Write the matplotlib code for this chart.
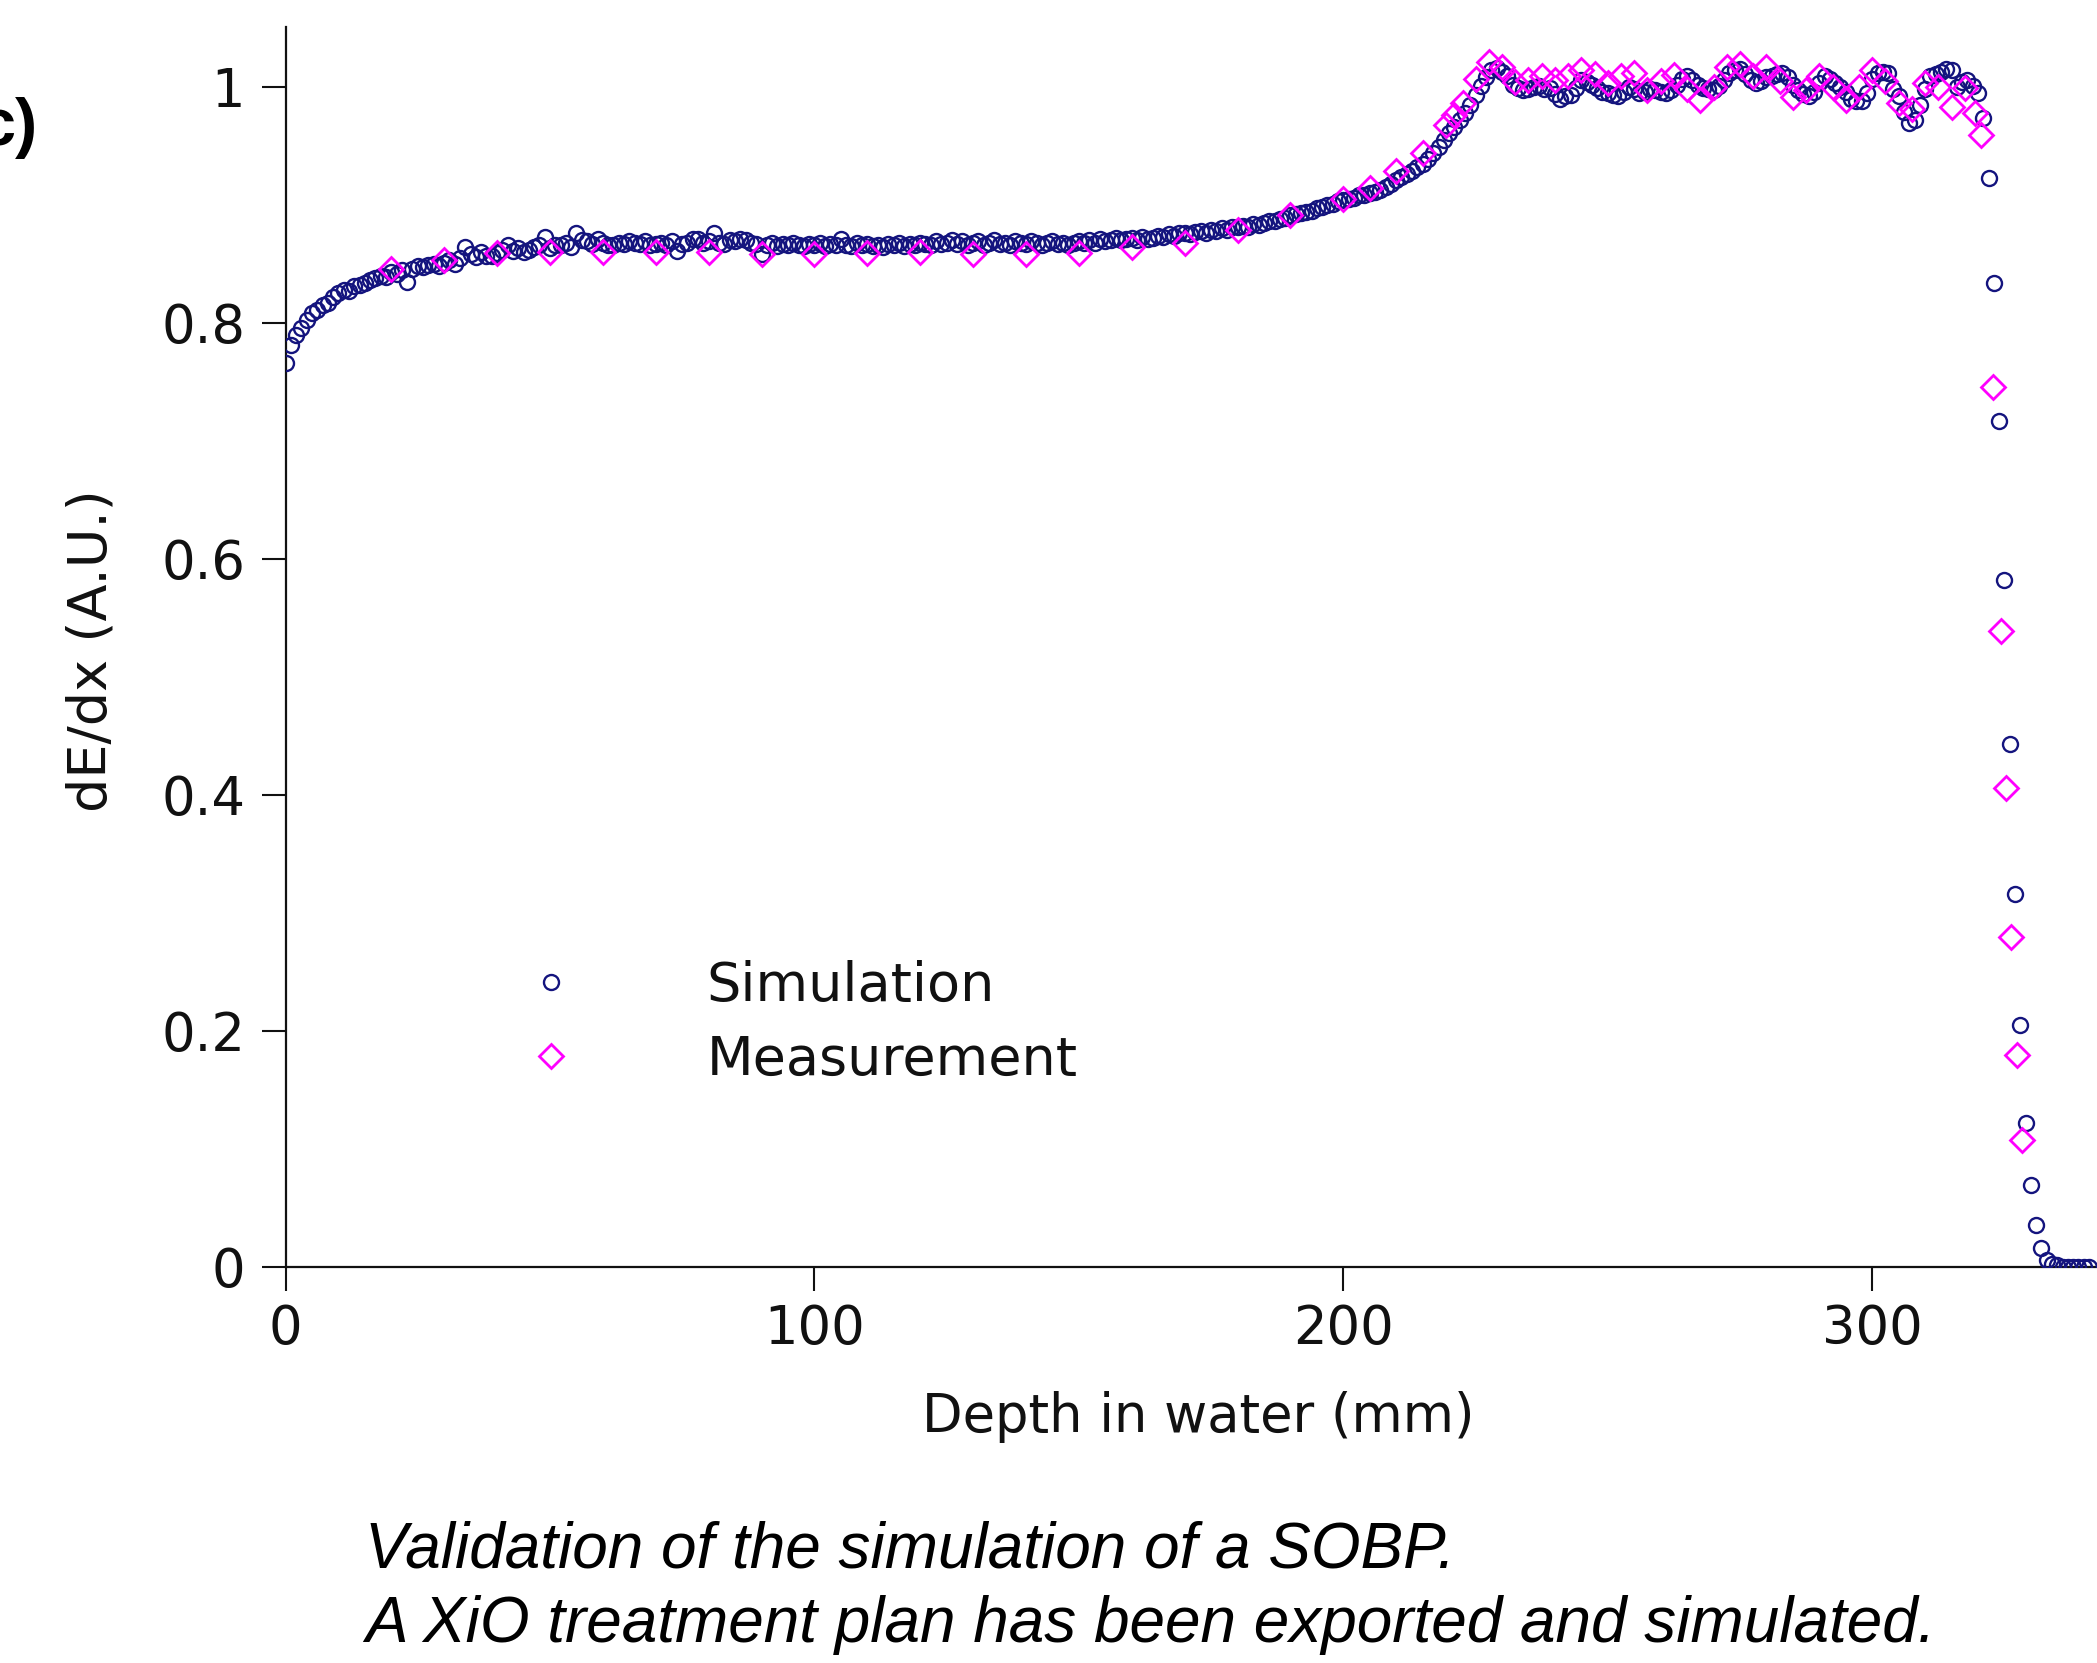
import matplotlib
matplotlib.use("Agg")
import matplotlib.pyplot as plt
import numpy as np

# ---------------- data ----------------
sim_depth = list(range(0, 342))  # mm, 1 mm steps
sim_dedx = [
    0.766, 0.781, 0.790, 0.796, 0.802, 0.808, 0.811, 0.815, 0.817, 0.822,
    0.825, 0.828, 0.827, 0.831, 0.832, 0.834, 0.836, 0.838, 0.840, 0.839,
    0.843, 0.841, 0.845, 0.835, 0.846, 0.848, 0.847, 0.849, 0.850, 0.848,
    0.851, 0.853, 0.850, 0.855, 0.864, 0.858, 0.856, 0.860, 0.857, 0.857,
    0.859, 0.862, 0.866, 0.861, 0.863, 0.860, 0.862, 0.864, 0.866, 0.873,
    0.863, 0.866, 0.866, 0.868, 0.864, 0.876, 0.870, 0.869, 0.867, 0.871,
    0.868, 0.866, 0.866, 0.868, 0.867, 0.869, 0.868, 0.867, 0.869, 0.866,
    0.867, 0.868, 0.866, 0.869, 0.861, 0.867, 0.868, 0.871, 0.871, 0.868,
    0.869, 0.876, 0.868, 0.867, 0.870, 0.869, 0.871, 0.870, 0.868, 0.867,
    0.858, 0.866, 0.868, 0.865, 0.867, 0.866, 0.868, 0.866, 0.865, 0.867,
    0.866, 0.868, 0.865, 0.867, 0.866, 0.871, 0.866, 0.865, 0.868, 0.866,
    0.867, 0.865, 0.866, 0.864, 0.867, 0.866, 0.868, 0.865, 0.867, 0.866,
    0.868, 0.867, 0.866, 0.869, 0.867, 0.868, 0.870, 0.867, 0.869, 0.866,
    0.868, 0.869, 0.866, 0.868, 0.870, 0.867, 0.868, 0.866, 0.869, 0.868,
    0.867, 0.869, 0.868, 0.866, 0.868, 0.869, 0.867, 0.868, 0.866, 0.868,
    0.869, 0.868, 0.870, 0.868, 0.871, 0.869, 0.870, 0.872, 0.870, 0.871,
    0.872, 0.870, 0.873, 0.871, 0.872, 0.874, 0.873, 0.875, 0.874, 0.876,
    0.876, 0.875, 0.877, 0.878, 0.876, 0.879, 0.878, 0.880, 0.879, 0.881,
    0.881, 0.882, 0.881, 0.884, 0.883, 0.885, 0.886, 0.886, 0.888, 0.889,
    0.891, 0.892, 0.893, 0.894, 0.895, 0.897, 0.898, 0.900, 0.901, 0.903,
    0.904, 0.905, 0.906, 0.908, 0.908, 0.910, 0.911, 0.913, 0.915, 0.918,
    0.921, 0.924, 0.926, 0.929, 0.932, 0.935, 0.939, 0.944, 0.949, 0.955,
    0.961, 0.966, 0.972, 0.978, 0.985, 0.993, 1.001, 1.008, 1.014, 1.016,
    1.013, 1.009, 1.002, 0.999, 0.997, 0.998, 1.000, 1.001, 0.998, 0.999,
    0.994, 0.990, 0.992, 0.993, 0.999, 1.006, 1.004, 1.002, 0.999, 0.996,
    0.995, 0.993, 0.992, 0.996, 1.000, 0.998, 0.995, 0.996, 0.998, 0.997,
    0.996, 0.995, 0.997, 1.002, 1.007, 1.009, 1.006, 1.002, 0.999, 0.998,
    0.997, 1.001, 1.006, 1.012, 1.014, 1.015, 1.011, 1.006, 1.003, 1.005,
    1.008, 1.009, 1.011, 1.012, 1.008, 1.002, 0.997, 0.994, 0.992, 0.996,
    1.003, 1.009, 1.007, 1.003, 1.000, 0.996, 0.990, 0.988, 0.988, 0.995,
    1.007, 1.012, 1.013, 1.012, 0.998, 0.992, 0.979, 0.969, 0.972, 0.985,
    0.998, 1.009, 1.011, 1.013, 1.015, 1.014, 1.000, 1.004, 1.006, 1.001,
    0.995, 0.974, 0.923, 0.834, 0.717, 0.582, 0.443, 0.316, 0.205, 0.122,
    0.069, 0.035, 0.016, 0.006, 0.002, 0.001, 0.000, 0.000, 0.000, 0.000,
    0.000, 0.000,
]

meas_depth = [
    20, 30, 40, 50, 60, 70, 80, 90, 100, 110, 120, 130, 140, 150, 160, 170,
    180, 190, 200, 205, 210, 215, 219.5, 221, 222.7,
    225, 227.5, 230, 232.5, 235, 237.5, 240, 242.5, 245, 247.5, 250, 252.5,
    255, 257.5, 260, 262.5, 265, 267.5, 270, 272.5, 275, 277.5, 280, 282.5,
    285, 287.5, 290, 292.5, 295, 297.5, 300, 302.5, 305, 307.5, 310, 312.5,
    315, 317.5, 319.5, 320.5, 322.8, 324.3, 325.3, 326.3, 327.3, 328.3,
]
meas_dedx = [
    0.846, 0.853, 0.859, 0.860, 0.860, 0.860, 0.860, 0.858, 0.858, 0.859,
    0.860, 0.858, 0.858, 0.859, 0.864, 0.868, 0.879, 0.891, 0.905, 0.914,
    0.929, 0.944, 0.968, 0.976, 0.986,
    1.007, 1.021, 1.017, 1.004, 1.006, 1.009, 1.006, 1.009, 1.014, 1.011,
    1.003, 1.009, 1.012, 0.997, 1.005, 1.010, 0.998, 0.989, 1.000, 1.017,
    1.019, 1.009, 1.017, 1.005, 0.991, 0.997, 1.009, 1.000, 0.989, 1.000,
    1.014, 1.005, 0.986, 0.981, 1.003, 1.000, 0.983, 0.999, 0.978, 0.959,
    0.746, 0.539, 0.406, 0.279, 0.179, 0.107,
]

x_ticks = [0, 100, 200, 300]
x_tick_labels = ["0", "100", "200", "300"]
y_ticks = [0, 0.2, 0.4, 0.6, 0.8, 1.0]
y_tick_labels = ["0", "0.2", "0.4", "0.6", "0.8", "1"]

# ---------------- figure ----------------
W, H = 2097, 1663
fig = plt.figure(figsize=(W / 100, H / 100), dpi=100)
plt.rcParams['font.family'] = ['DejaVu Sans']

ax_left = 285.5 / W
ax_bottom = (H - 1266.6) / H
ax_top = (H - 26.7) / H
ax = fig.add_axes([ax_left, ax_bottom, 1.0 - ax_left, ax_top - ax_bottom])

sim_color = '#14147e'
meas_color = '#ff00ff'

ax.plot(sim_depth, sim_dedx, linestyle='none', marker='o', markersize=10.8,
        markerfacecolor='none', markeredgecolor=sim_color, markeredgewidth=1.7,
        label='Simulation', clip_on=True, zorder=3)
ax.plot(meas_depth, meas_dedx, linestyle='none', marker='D', markersize=12.5,
        markerfacecolor='none', markeredgecolor=meas_color, markeredgewidth=2.0,
        label='Measurement', clip_on=True, zorder=4)

ax.set_xlim(0, 342.5)
ax.set_ylim(0, 1.051)

for s in ['top', 'right']:
    ax.spines[s].set_visible(False)
for s in ['left', 'bottom']:
    ax.spines[s].set_linewidth(1.6)
    ax.spines[s].set_color('#111111')

ax.set_xticks(x_ticks)
ax.set_xticklabels(x_tick_labels)
ax.set_yticks(y_ticks)
ax.set_yticklabels(y_tick_labels)
ax.tick_params(axis='both', direction='out', length=17, width=1.5,
               labelsize=38, color='#111111', labelcolor='#111111')
ax.tick_params(axis='x', pad=9)
ax.tick_params(axis='y', pad=12)

ax.set_xlabel('Depth in water (mm)', fontsize=38, color='#111111')
ax.xaxis.set_label_coords(0.504, -0.1006)
ax.set_ylabel('dE/dx (A.U.)', fontsize=39, color='#111111')
ax.yaxis.set_label_coords(-0.093, 0.497)

leg = ax.legend(loc='center left', bbox_to_anchor=(497 / W, (H - 1023) / H),
                bbox_transform=fig.transFigure, frameon=False, fontsize=39,
                handlelength=2.0, handletextpad=1.87, borderpad=0,
                borderaxespad=0, labelspacing=0.4, numpoints=1)
for t in leg.get_texts():
    t.set_color('#111111')

# caption
fig.text(365 / W, (H - 1567) / H, 'Validation of the simulation of a SOBP.',
         fontsize=46, style='italic', family=['Liberation Sans', 'DejaVu Sans'],
         ha='left', va='baseline', color='black')
fig.text(365 / W, (H - 1642) / H,
         'A XiO treatment plan has been exported and simulated.',
         fontsize=46, style='italic', family=['Liberation Sans', 'DejaVu Sans'],
         ha='left', va='baseline', color='black')

# panel label (partially cut at left edge, as in the reference)
fig.text(-22 / W, (H - 145) / H, 'c)', fontsize=48, fontweight='bold',
         family=['Liberation Sans', 'DejaVu Sans'], ha='left', va='baseline',
         color='black')

fig.savefig('out.png', dpi=100)
